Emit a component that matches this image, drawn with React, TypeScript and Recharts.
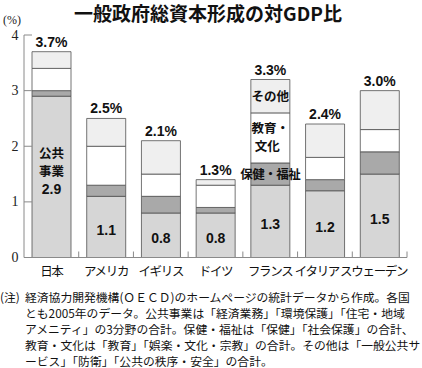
import { BarChart, Bar, XAxis, YAxis, LabelList } from "recharts";

// 一般政府総資本形成の対GDP比（2005年、%）
const countries = ["日本", "アメリカ", "イギリス", "ドイツ", "フランス", "イタリア", "スウェーデン"];
const publicWorks = [2.9, 1.1, 0.8, 0.8, 1.3, 1.2, 1.5];
const healthWelfare = [0.1, 0.2, 0.3, 0.1, 0.4, 0.2, 0.4];
const educationCulture = [0.4, 0.7, 0.4, 0.4, 0.9, 0.4, 0.4];
const others = [0.3, 0.5, 0.6, 0.1, 0.6, 0.6, 0.7];
const totalLabels = ["3.7%", "2.5%", "2.1%", "1.3%", "3.3%", "2.4%", "3.0%"];
const publicLabels = ["2.9", "1.1", "0.8", "0.8", "1.3", "1.2", "1.5"];
const yTicks = [0, 1, 2, 3, 4];

// 凡例代わりに棒の中へ書く項目名
const publicCaptionCountry = "日本";
const breakdownCaptionCountry = "フランス";
const segmentNames = { public: "公共事業", health: "保健・福祉", edu: "教育・文化", other: "その他" };

const noteLines = [
  "経済協力開発機構(ＯＥＣＤ)のホームページの統計データから作成。各国",
  "とも2005年のデータ。公共事業は「経済業務」「環境保護」「住宅・地域",
  "アメニティ」の3分野の合計。保健・福祉は「保健」「社会保護」の合計、",
  "教育・文化は「教育」「娯楽・文化・宗教」の合計。その他は「一般公共サ",
  "ービス」「防衛」「公共の秩序・安全」の合計。",
];

const rows = countries.map((country, i) => ({
  country,
  public: publicWorks[i],
  health: healthWelfare[i],
  edu: educationCulture[i],
  other: others[i],
  totalLabel: totalLabels[i],
  publicLabel: publicLabels[i],
}));

const NUM_FONT = "'Liberation Sans', Arial, 'Noto Sans CJK JP', sans-serif";
const JP_FONT = "'Noto Sans CJK JP', 'Noto Sans', sans-serif";
const AXIS = "#8a8a8a";
const EDGE = "#505050";

// 右端の国名は元図と同じく少し左へ寄せる
const labelShift: Record<string, number> = { "イタリア": -8, "スウェーデン": -6 };

const YTick = (props: any) => {
  const { x, y, payload } = props;
  return (
    <g>
      <line x1={x} x2={x + 8} y1={y} y2={y} stroke={AXIS} strokeWidth={1} />
      <text
        x={x - 9}
        y={y}
        textAnchor="middle"
        dominantBaseline="central"
        fontFamily="'Liberation Serif', 'DejaVu Serif', serif"
        fontSize={14}
        fill="#222"
      >
        {payload.value}
      </text>
    </g>
  );
};

const XTick = (props: any) => {
  const { x, y, payload } = props;
  const band = 383 / countries.length;
  const shift = labelShift[payload.value] || 0;
  return (
    <g>
      <line x1={x + band / 2} x2={x + band / 2} y1={y} y2={y - 6} stroke={AXIS} strokeWidth={1} />
      <text
        x={x + shift}
        y={y + 13}
        textAnchor="middle"
        dominantBaseline="central"
        fontFamily={JP_FONT}
        fontSize={12.5}
        letterSpacing={-1.3}
        fill="#111"
      >
        {payload.value}
      </text>
    </g>
  );
};

const PublicLabel = (props: any) => {
  const { x, y, width, height, index, value } = props;
  const cx = x + width / 2;
  const cy = y + height / 2;
  if (countries[index] === publicCaptionCountry) {
    const name = segmentNames.public;
    return (
      <g fontWeight="bold" fill="#111">
        <text x={cx} y={cy - 19} textAnchor="middle" fontFamily={JP_FONT} fontSize={12.5}>
          {name.slice(0, 2)}
        </text>
        <text x={cx} y={cy - 1} textAnchor="middle" fontFamily={JP_FONT} fontSize={12.5}>
          {name.slice(2)}
        </text>
        <text x={cx} y={cy + 17} textAnchor="middle" fontFamily={NUM_FONT} fontSize={14}>
          {value}
        </text>
      </g>
    );
  }
  return (
    <text
      x={cx}
      y={cy + 8}
      textAnchor="middle"
      fontFamily={NUM_FONT}
      fontSize={14}
      fontWeight="bold"
      fill="#111"
    >
      {value}
    </text>
  );
};

const captionFor = (key: "health" | "edu" | "other") => (props: any) => {
  const { x, y, width, height, index } = props;
  if (countries[index] !== breakdownCaptionCountry) return null;
  const cx = x + width / 2;
  const cy = y + height / 2;
  const name = segmentNames[key];
  if (key === "edu") {
    return (
      <g fontFamily={JP_FONT} fontSize={12.5} fontWeight="bold" fill="#111">
        <text x={cx} y={cy - 5} textAnchor="middle">{name.slice(0, 3)}</text>
        <text x={cx - 3} y={cy + 13} textAnchor="middle">{name.slice(3)}</text>
      </g>
    );
  }
  return (
    <text
      x={cx}
      y={cy + 4.5}
      textAnchor="middle"
      fontFamily={JP_FONT}
      fontSize={12.5}
      fontWeight="bold"
      letterSpacing={key === "health" ? -0.5 : 0}
      fill="#111"
    >
      {name}
    </text>
  );
};

const TotalLabel = (props: any) => {
  const { x, y, width, value } = props;
  return (
    <text
      x={x + width / 2}
      y={y - 5}
      textAnchor="middle"
      fontFamily={NUM_FONT}
      fontSize={14}
      fontWeight="bold"
      fill="#111"
    >
      {value}
    </text>
  );
};

export default function App() {
  return (
    <div
      style={{
        position: "fixed",
        left: 0,
        top: 0,
        width: 422,
        height: 368,
        background: "#fff",
        overflow: "hidden",
      }}
    >
      <div
        style={{
          position: "absolute",
          left: 0,
          top: 1,
          width: 416,
          textAlign: "center",
          fontFamily: JP_FONT,
          fontWeight: 700,
          fontSize: 19,
          lineHeight: "24px",
          color: "#111",
        }}
      >
        一般政府総資本形成の対GDP比
      </div>
      <div
        style={{
          position: "absolute",
          left: 3,
          top: 13,
          fontFamily: "'Liberation Serif', serif",
          fontSize: 12,
          lineHeight: "14px",
          color: "#222",
        }}
      >
        (%)
      </div>

      <BarChart
        width={422}
        height={290}
        data={rows}
        margin={{ top: 35, right: 15, bottom: 2.5, left: 0 }}
      >
        <YAxis
          type="number"
          domain={[0, 4]}
          ticks={yTicks}
          width={24}
          axisLine={{ stroke: AXIS }}
          tickLine={false}
          tickSize={0}
          tickMargin={0}
          tick={<YTick />}
          interval={0}
        />
        <XAxis
          dataKey="country"
          height={30}
          axisLine={{ stroke: AXIS }}
          tickLine={false}
          tickSize={0}
          tickMargin={0}
          tick={<XTick />}
          interval={0}
        />
        <Bar dataKey="public" stackId="a" barSize={39} fill="#d6d6d6" stroke={EDGE} strokeWidth={0.8} isAnimationActive={false}>
          <LabelList dataKey="publicLabel" content={<PublicLabel />} />
        </Bar>
        <Bar dataKey="health" stackId="a" barSize={39} fill="#a9a9a9" stroke={EDGE} strokeWidth={0.8} isAnimationActive={false}>
          <LabelList dataKey="health" content={captionFor("health")} />
        </Bar>
        <Bar dataKey="edu" stackId="a" barSize={39} fill="#ffffff" stroke={EDGE} strokeWidth={0.8} isAnimationActive={false}>
          <LabelList dataKey="edu" content={captionFor("edu")} />
        </Bar>
        <Bar dataKey="other" stackId="a" barSize={39} fill="#efefef" stroke={EDGE} strokeWidth={0.8} isAnimationActive={false}>
          <LabelList dataKey="other" content={captionFor("other")} />
          <LabelList dataKey="totalLabel" content={<TotalLabel />} />
        </Bar>
      </BarChart>

      <div
        style={{
          position: "absolute",
          left: 0,
          top: 289,
          width: 440,
          fontFamily: JP_FONT,
          fontSize: 11.8,
          lineHeight: "16px",
          color: "#111",
          whiteSpace: "nowrap",
        }}
      >
        {noteLines.map((line, i) => (
          <div key={i} style={{ position: "relative", paddingLeft: 25 }}>
            {i === 0 && <span style={{ position: "absolute", left: 0 }}>(注)</span>}
            {line}
          </div>
        ))}
      </div>
    </div>
  );
}
